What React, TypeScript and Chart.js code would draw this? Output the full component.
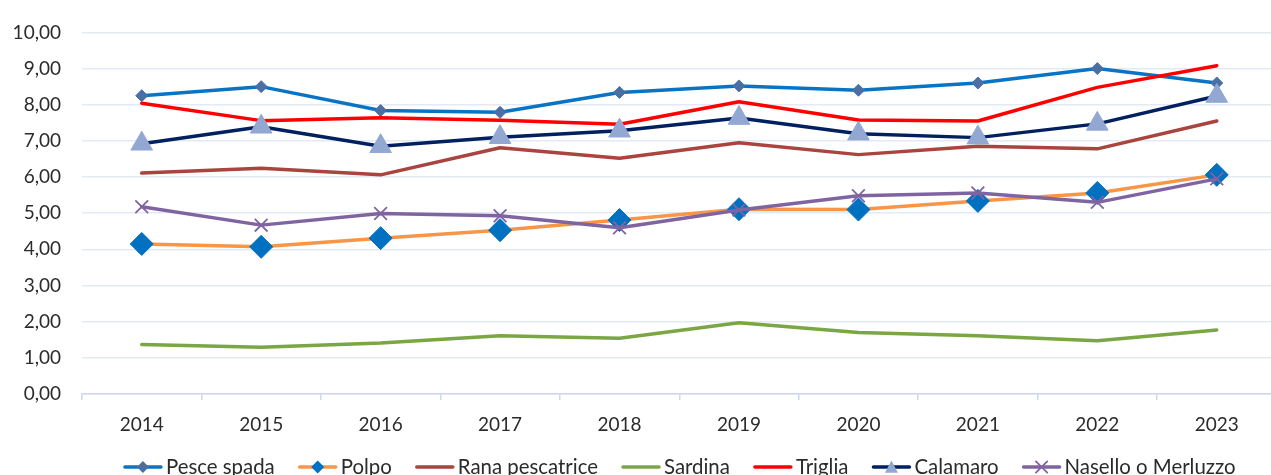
import React, { useEffect, useRef } from "react";
import { Chart, registerables } from "chart.js";

Chart.register(...registerables);

const years = ["2014", "2015", "2016", "2017", "2018", "2019", "2020", "2021", "2022", "2023"];
const pesceSpada = [8.25, 8.5, 7.84, 7.79, 8.34, 8.52, 8.4, 8.6, 9.0, 8.6];
const polpo = [4.15, 4.07, 4.31, 4.53, 4.81, 5.11, 5.1, 5.34, 5.56, 6.06];
const ranaPescatrice = [6.11, 6.24, 6.06, 6.81, 6.52, 6.95, 6.62, 6.85, 6.78, 7.55];
const sardina = [1.37, 1.29, 1.41, 1.61, 1.54, 1.97, 1.7, 1.61, 1.47, 1.77];
const triglia = [8.04, 7.56, 7.64, 7.57, 7.46, 8.08, 7.58, 7.55, 8.48, 9.08];
const calamaro = [6.92, 7.39, 6.85, 7.1, 7.28, 7.63, 7.2, 7.09, 7.47, 8.24];
const nasello = [5.18, 4.67, 4.99, 4.93, 4.6, 5.09, 5.48, 5.56, 5.3, 5.95];

const seriesNames = [
  "Pesce spada",
  "Polpo",
  "Rana pescatrice",
  "Sardina",
  "Triglia",
  "Calamaro",
  "Nasello o Merluzzo",
];

const FONT = "Lato, 'Open Sans', sans-serif";
const TEXT = "#2b2b2b";

function drawMarker(ctx: CanvasRenderingContext2D, style: string, x: number, y: number, r: number, fill: string, stroke: string, bw: number) {
  ctx.save();
  ctx.beginPath();
  if (style === "rectRot") {
    ctx.moveTo(x, y - r);
    ctx.lineTo(x + r, y);
    ctx.lineTo(x, y + r);
    ctx.lineTo(x - r, y);
    ctx.closePath();
    ctx.fillStyle = fill;
    ctx.fill();
  } else if (style === "triangle") {
    const h = r * 1.5;
    const w = r * Math.sqrt(3);
    ctx.moveTo(x, y - h / 2 - 1);
    ctx.lineTo(x + w / 2, y + h / 2);
    ctx.lineTo(x - w / 2, y + h / 2);
    ctx.closePath();
    ctx.fillStyle = fill;
    ctx.fill();
  } else if (style === "crossRot") {
    const o = r * Math.SQRT1_2;
    ctx.moveTo(x - o, y - o);
    ctx.lineTo(x + o, y + o);
    ctx.moveTo(x - o, y + o);
    ctx.lineTo(x + o, y - o);
    ctx.strokeStyle = stroke;
    ctx.lineWidth = bw;
    ctx.stroke();
  }
  ctx.restore();
}

const legendPlugin = {
  id: "excelLegend",
  afterDraw(chart: any) {
    const ctx: CanvasRenderingContext2D = chart.ctx;
    const area = chart.chartArea;
    const ds = chart.data.datasets;
    ctx.save();
    ctx.font = `20.4px ${FONT}`;
    const lineW = 40;
    const textGap = 3;
    const gap = 23;
    const widths = ds.map((d: any) => lineW + textGap + ctx.measureText(d.label).width);
    const total = widths.reduce((a: number, b: number) => a + b, 0) + gap * (ds.length - 1);
    let x = (area.left + area.right) / 2 - total / 2;
    const y = area.bottom + 73;
    ds.forEach((d: any, i: number) => {
      ctx.beginPath();
      ctx.moveTo(x + 2, y);
      ctx.lineTo(x + lineW - 2, y);
      ctx.strokeStyle = d.borderColor;
      ctx.lineWidth = 3.5;
      ctx.lineCap = "round";
      ctx.stroke();
      if (d.pointRadius > 0) {
        const st = d.pointStyle;
        const r = st === "rectRot" ? Math.min(d.pointRadius, 6.5) : st === "triangle" ? 7.5 : 8;
        drawMarker(ctx, st, x + lineW / 2, y, r, d.pointBackgroundColor, d.pointBorderColor, 1.8);
      }
      ctx.fillStyle = TEXT;
      ctx.textBaseline = "middle";
      ctx.textAlign = "left";
      ctx.fillText(d.label, x + lineW + textGap, y);
      x += widths[i] + gap;
    });
    ctx.restore();
  },
};

function makeDataset(i: number, data: number[], color: string, marker: any) {
  return {
    label: seriesNames[i],
    data,
    borderColor: color,
    backgroundColor: color,
    borderWidth: 3.5,
    borderCapStyle: "round",
    borderJoinStyle: "round",
    tension: 0,
    order: 10 - i,
    pointStyle: marker ? marker.style : "circle",
    pointRadius: marker ? marker.r : 0,
    pointHoverRadius: marker ? marker.r : 0,
    pointBackgroundColor: marker ? marker.fill : color,
    pointBorderColor: marker ? marker.stroke : color,
    pointBorderWidth: marker ? marker.bw : 0,
  };
}

export default function App() {
  const ref = useRef<HTMLCanvasElement>(null);
  useEffect(() => {
    if (!ref.current) return;
    Chart.defaults.font.family = FONT;
    const chart = new Chart(ref.current, {
      type: "line",
      data: {
        labels: years,
        datasets: [
          makeDataset(0, pesceSpada, "#0A74C4", { style: "rectRot", r: 6, fill: "#4A6FA5", stroke: "#4A6FA5", bw: 1 }),
          makeDataset(1, polpo, "#F79646", { style: "rectRot", r: 11.5, fill: "#0070C0", stroke: "#0070C0", bw: 1 }),
          makeDataset(2, ranaPescatrice, "#A9443F", null),
          makeDataset(3, sardina, "#7BA644", null),
          makeDataset(4, triglia, "#FF0000", null),
          makeDataset(5, calamaro, "#002060", { style: "triangle", r: 12.5, fill: "#93A7D3", stroke: "#93A7D3", bw: 1 }),
          makeDataset(6, nasello, "#8064A2", { style: "crossRot", r: 9, fill: "rgba(0,0,0,0)", stroke: "#8064A2", bw: 1.8 }),
        ] as any,
      },
      options: {
        animation: false,
        responsive: false,
        maintainAspectRatio: false,
        layout: { padding: { top: 23, right: 10, left: 0, bottom: 61 } },
        plugins: { legend: { display: false }, tooltip: { enabled: false } },
        scales: {
          x: {
            type: "category",
            offset: true,
            grid: {
              offset: true,
              drawOnChartArea: false,
              drawTicks: true,
              tickLength: 6,
              color: "#CDD9EA",
              lineWidth: 1.5,
            },
            border: { display: true, color: "#CDD9EA", width: 1.5 },
            ticks: {
              color: TEXT,
              font: { size: 19, family: FONT },
              padding: 13,
              maxRotation: 0,
              autoSkip: false,
            },
            afterFit: (s: any) => {
              s.height = 40;
            },
          },
          y: {
            min: 0,
            max: 10,
            grid: { color: "#E3EAF4", lineWidth: 1.5, drawTicks: false },
            border: { display: false },
            ticks: {
              stepSize: 1,
              color: TEXT,
              font: { size: 19, family: FONT },
              padding: 21,
              callback: (v: any) => Number(v).toFixed(2).replace(".", ","),
            },
            afterFit: (s: any) => {
              s.width = 82;
            },
          },
        },
      },
      plugins: [legendPlugin],
    });
    return () => chart.destroy();
  }, []);
  return (
    <div style={{ position: "absolute", left: 0, top: 0, width: 1271, height: 475, overflow: "hidden", background: "#fff" }}>
      <canvas ref={ref} width={1290} height={495} style={{ display: "block" }} />
    </div>
  );
}
